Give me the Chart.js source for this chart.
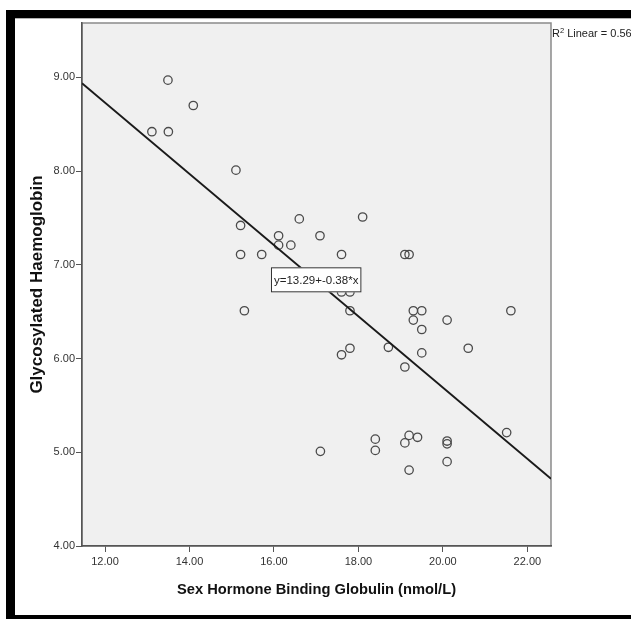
<!DOCTYPE html>
<html>
<head>
<meta charset="utf-8">
<script src="https://cdn.jsdelivr.net/npm/chart.js@4.4.1/dist/chart.umd.min.js"></script>
<style>
  html, body { margin: 0; padding: 0; background: #fff; }
  canvas { display: block; }
</style>
</head>
<body>
<canvas id="scatter" width="631" height="619"></canvas>
<script>
// Sex Hormone Binding Globulin (nmol/L)
var shbg = [13.49, 13.11, 13.50, 14.09, 15.10, 15.21, 15.21, 15.71, 15.30, 16.11,
            16.11, 16.40, 16.60, 17.09, 17.60, 18.10, 19.10, 19.20, 17.60, 17.80,
            17.80, 19.30, 19.50, 21.61, 19.30, 20.10, 19.50, 18.71, 17.80, 17.60,
            19.50, 20.60, 19.10, 21.51, 18.40, 19.20, 19.40, 19.10, 20.10, 20.10,
            18.40, 17.10, 20.10, 19.20];
// Glycosylated Haemoglobin
var hba1c = [8.97, 8.42, 8.42, 8.70, 8.01, 7.42, 7.11, 7.11, 6.51, 7.31,
             7.21, 7.21, 7.49, 7.31, 7.11, 7.51, 7.11, 7.11, 6.71, 6.71,
             6.51, 6.51, 6.51, 6.51, 6.41, 6.41, 6.31, 6.12, 6.11, 6.04,
             6.06, 6.11, 5.91, 5.21, 5.14, 5.18, 5.16, 5.10, 5.12, 5.09,
             5.02, 5.01, 4.90, 4.81];

var xTicks = [12, 14, 16, 18, 20, 22];
var yTicks = [4, 5, 6, 7, 8, 9];

var fitIntercept = 13.29;
var fitSlope = -0.38;
var rSquared = 0.56;

var xMin = 11.455, xMax = 22.56;
var yMin = 4.0, yMax = 9.58;

var sans = "'Liberation Sans', Arial, sans-serif";

var points = shbg.map(function (x, i) { return { x: x, y: hba1c[i] }; });
var fitLine = [xMin, xMax].map(function (x) { return { x: x, y: fitIntercept + fitSlope * x }; });

/* frame, plot background, equation box, R2 text */
var decor = {
    id: 'decor',
    beforeDraw: function (chart) {
        var c = chart.ctx, a = chart.chartArea;
        c.save();
        c.fillStyle = '#fff';
        c.fillRect(0, 0, chart.width, chart.height);
        c.fillStyle = '#000';
        c.fillRect(6, 10, chart.width - 6, 8.3);
        c.fillRect(6, 10, 9, chart.height - 10);
        c.fillRect(6, 615, chart.width - 6, 6);
        c.fillStyle = '#f0f0f0';
        c.fillRect(a.left, a.top, a.right - a.left, a.bottom - a.top);
        c.strokeStyle = '#8a8a8a';
        c.lineWidth = 1.5;
        c.strokeRect(a.left, a.top, a.right - a.left, a.bottom - a.top);
        c.restore();
    },
    afterDraw: function (chart) {
        var c = chart.ctx, a = chart.chartArea;
        var xs = chart.scales.x, ys = chart.scales.y;
        var txt = 'y=' + fitIntercept.toFixed(2) + '+' + fitSlope.toFixed(2) + '*x';
        c.save();
        c.font = '11.5px ' + sans;
        var w = c.measureText(txt).width + 6;
        var h = 25;
        var cx = xs.getPixelForValue(17.0), cy = ys.getPixelForValue(6.84);
        c.fillStyle = '#fff';
        c.fillRect(cx - w / 2, cy - h / 2, w, h);
        c.strokeStyle = '#333';
        c.lineWidth = 1;
        c.strokeRect(cx - w / 2 + 0.5, cy - h / 2 + 0.5, w - 1, h - 1);
        c.fillStyle = '#222';
        c.textAlign = 'center';
        c.textBaseline = 'middle';
        c.fillText(txt, cx, cy + 1);

        // R2 Linear
        var x0 = a.right + 1, y0 = 37;
        c.textAlign = 'left';
        c.textBaseline = 'alphabetic';
        c.font = '11px ' + sans;
        c.fillStyle = '#222';
        c.fillText('R', x0, y0);
        var rw = c.measureText('R').width;
        c.font = '7.5px ' + sans;
        c.fillText('2', x0 + rw, y0 - 4.5);
        var sw = c.measureText('2').width;
        c.font = '11px ' + sans;
        c.fillText(' Linear = ' + rSquared.toFixed(2), x0 + rw + sw, y0);
        c.restore();
    }
};

new Chart(document.getElementById('scatter'), {
    type: 'scatter',
    data: {
        datasets: [{
            type: 'line',
            data: fitLine,
            borderColor: '#1a1a1a',
            borderWidth: 1.8,
            pointRadius: 0,
            fill: false,
            order: 1
        }, {
            data: points,
            pointStyle: 'circle',
            pointRadius: 4.2,
            backgroundColor: 'rgba(0,0,0,0)',
            borderColor: '#4a4a4a',
            borderWidth: 1.3,
            order: 2
        }]
    },
    options: {
        responsive: false,
        animation: false,
        layout: { padding: { left: 0, top: 23, right: 80, bottom: 0 } },
        plugins: { legend: { display: false }, tooltip: { enabled: false } },
        scales: {
            x: {
                type: 'linear',
                min: xMin,
                max: xMax,
                afterFit: function (s) { s.height = 73; },
                afterBuildTicks: function (s) { s.ticks = xTicks.map(function (v) { return { value: v }; }); },
                grid: { drawOnChartArea: false, drawTicks: true, tickLength: 6, color: '#555' },
                border: { color: '#555', width: 1.5 },
                ticks: {
                    padding: 3,
                    color: '#333',
                    font: { family: sans, size: 11 },
                    callback: function (v) { return v.toFixed(2); }
                },
                title: {
                    display: true,
                    text: 'Sex Hormone Binding Globulin (nmol/L)',
                    color: '#111',
                    font: { family: sans, size: 14.7, weight: 'bold' },
                    padding: { top: 0, bottom: 20 }
                }
            },
            y: {
                type: 'linear',
                min: yMin,
                max: yMax,
                afterFit: function (s) { s.width = 82; },
                afterBuildTicks: function (s) { s.ticks = yTicks.map(function (v) { return { value: v }; }); },
                grid: { drawOnChartArea: false, drawTicks: true, tickLength: 6, color: '#555' },
                border: { color: '#555', width: 1.5 },
                ticks: {
                    padding: 1,
                    color: '#333',
                    font: { family: sans, size: 11 },
                    callback: function (v) { return v.toFixed(2); }
                },
                title: {
                    display: true,
                    text: 'Glycosylated Haemoglobin',
                    color: '#111',
                    font: { family: sans, size: 17, weight: 'bold' },
                    padding: { top: 27, bottom: 0 }
                }
            }
        }
    },
    plugins: [decor]
});
</script>
</body>
</html>
